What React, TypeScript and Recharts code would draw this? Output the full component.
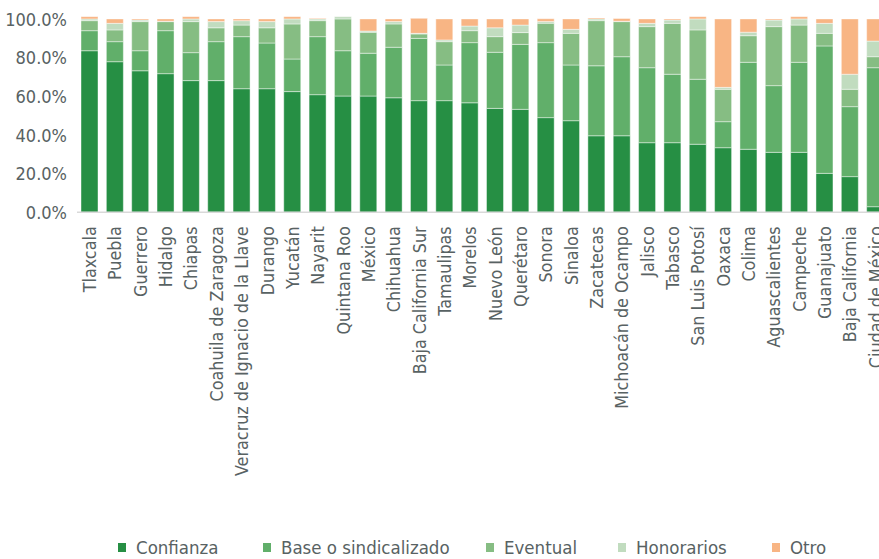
import React from "react";
import { BarChart, Bar, XAxis, YAxis, Legend } from "recharts";

const states = [
  "Tlaxcala", "Puebla", "Guerrero", "Hidalgo", "Chiapas", "Coahuila de Zaragoza",
  "Veracruz de Ignacio de la Llave", "Durango", "Yucatán", "Nayarit", "Quintana Roo",
  "México", "Chihuahua", "Baja California Sur", "Tamaulipas", "Morelos", "Nuevo León",
  "Querétaro", "Sonora", "Sinaloa", "Zacatecas", "Michoacán de Ocampo", "Jalisco",
  "Tabasco", "San Luis Potosí", "Oaxaca", "Colima", "Aguascalientes", "Campeche",
  "Guanajuato", "Baja California", "Ciudad de México",
];

const confianza = [83.8, 78.1, 73.4, 71.9, 68.3, 68.3, 64.1, 64.1, 62.6, 61.0, 60.3, 60.3, 59.4, 57.9, 57.9, 56.8, 53.9, 53.4, 49.1, 47.5, 39.7, 39.7, 36.1, 36.1, 35.3, 33.5, 32.7, 31.1, 31.1, 20.2, 18.5, 2.9];
const baseSind = [10.4, 10.4, 10.4, 22.3, 14.5, 20.2, 27.0, 23.7, 16.9, 30.1, 23.5, 22.2, 26.2, 32.3, 18.5, 31.2, 29.1, 33.7, 38.9, 28.9, 36.3, 41.0, 38.9, 35.5, 33.7, 13.5, 45.1, 34.6, 46.7, 66.1, 36.3, 72.1];
const eventual = [5.2, 6.1, 15.1, 4.7, 16.1, 7.2, 6.0, 7.9, 18.2, 8.3, 16.5, 10.9, 12.1, 2.3, 12.1, 6.2, 8.1, 6.1, 10.1, 16.4, 23.4, 18.2, 21.3, 26.4, 25.6, 16.8, 13.8, 30.6, 19.3, 6.5, 9.0, 5.7];
const honorarios = [0.9, 3.4, 0.8, 0.2, 1.4, 3.2, 2.3, 3.2, 2.6, 0.9, 1.2, 0.6, 1.2, 0.3, 0.9, 2.4, 4.6, 3.9, 0.9, 2.1, 0.9, 0.2, 1.7, 1.7, 5.7, 1.0, 1.8, 3.4, 3.2, 5.2, 7.8, 8.1];
const otro = [1.2, 2.3, 0.6, 1.2, 1.2, 1.4, 0.9, 1.4, 1.2, 0.3, 0.0, 6.3, 1.4, 7.8, 10.9, 3.7, 4.6, 3.2, 1.4, 5.4, 0.5, 1.4, 2.3, 0.6, 1.2, 35.5, 6.9, 0.6, 1.2, 2.3, 28.7, 11.5];

const yTicks = [0, 0.2, 0.4, 0.6, 0.8, 1];

const series = [
  { key: "confianza", name: "Confianza", color: "#268f44" },
  { key: "base", name: "Base o sindicalizado", color: "#61af6a" },
  { key: "eventual", name: "Eventual", color: "#86bd83" },
  { key: "honorarios", name: "Honorarios", color: "#c1dcbf" },
  { key: "otro", name: "Otro", color: "#f8b584" },
];

const legendLeft = [118, 263, 486, 618, 772];

const data = states.map((s, i) => ({
  state: s,
  confianza: confianza[i] / 100,
  base: baseSind[i] / 100,
  eventual: eventual[i] / 100,
  honorarios: honorarios[i] / 100,
  otro: otro[i] / 100,
}));

const FONT = "'DejaVu Sans Condensed', 'DejaVu Sans', sans-serif";
const TEXT = "#586263";

const XTick = (props: any) => {
  const { x, y, payload } = props;
  return (
    <text
      transform={`translate(${x},${y}) rotate(-90)`}
      textAnchor="end"
      dy="0.36em"
      fontSize={17.8}
      fontFamily={FONT}
      fill={TEXT}
    >
      {payload.value}
    </text>
  );
};

const LegendContent = () => (
  <div style={{ position: "relative", height: 24, fontFamily: FONT, fontSize: 18.5, color: TEXT, whiteSpace: "nowrap" }}>
    {series.map((s, i) => (
      <div key={s.key} style={{ position: "absolute", left: legendLeft[i], top: 0, display: "flex", alignItems: "center", height: 24 }}>
        <span style={{ display: "inline-block", width: 8, height: 9, background: s.color, marginRight: 10 }} />
        <span>{s.name}</span>
      </div>
    ))}
  </div>
);

export default function App() {
  return (
    <div style={{ position: "fixed", left: 0, top: 0, width: 879, height: 559, overflow: "hidden", background: "#fff" }}>
      <BarChart
        width={900}
        height={559}
        data={data}
        margin={{ top: 16.6, right: 12, bottom: 46.7, left: 0 }}
        barSize={17}
      >
        <XAxis
          dataKey="state"
          interval={0}
          height={300}
          tickLine={false}
          tickMargin={8}
          axisLine={{ stroke: "#d9d9d9", strokeWidth: 1.5 }}
          tick={<XTick />}
        />
        <YAxis
          width={77}
          domain={[0, 1.015]}
          allowDataOverflow
          ticks={yTicks}
          axisLine={false}
          tickLine={false}
          tickMargin={4}
          tickFormatter={(v: number) => `${(v * 100).toFixed(1)}%`}
          tick={{ fontSize: 18, fontFamily: FONT, fill: TEXT }}
        />
        <Legend
          layout="horizontal"
          verticalAlign="middle"
          align="center"
          content={<LegendContent />}
          wrapperStyle={{ top: 535, left: 0, width: 879 }}
        />
        {series.map((s) => (
          <Bar
            key={s.key}
            dataKey={s.key}
            name={s.name}
            stackId="a"
            fill={s.color}
            stroke="#ffffff"
            strokeOpacity={0.55}
            strokeWidth={0.8}
            isAnimationActive={false}
          />
        ))}
      </BarChart>
    </div>
  );
}
